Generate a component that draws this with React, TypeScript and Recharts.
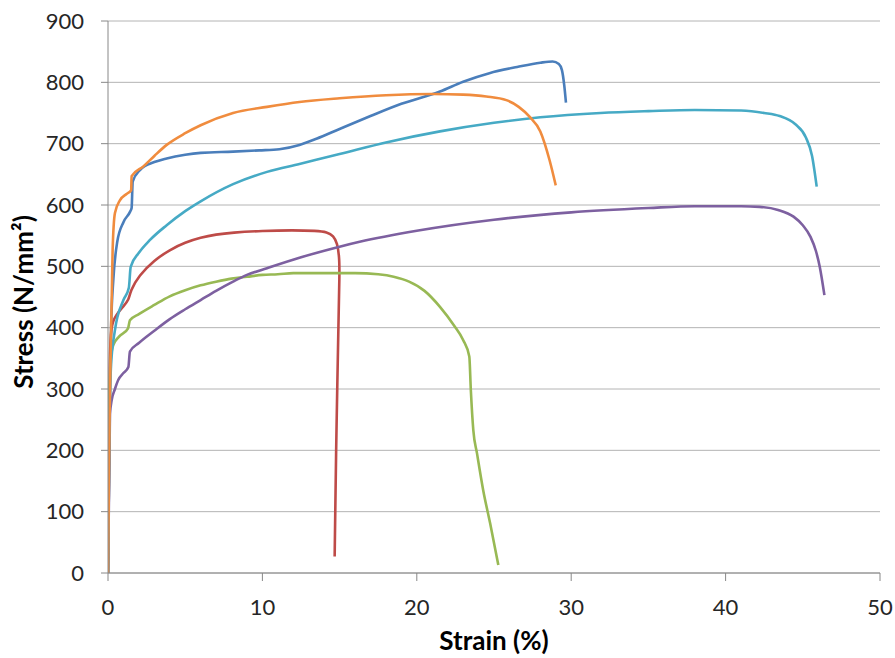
import { LineChart, Line, XAxis, YAxis, CartesianGrid } from 'recharts';

// strain (%) / stress (N/mm²) pairs
const blueCurve = [
  { x: 0, y: 0 }, { x: 0.1, y: 250 }, { x: 0.2, y: 400 }, { x: 0.35, y: 480 }, { x: 0.6, y: 540 },
  { x: 1.0, y: 572 }, { x: 1.45, y: 590 }, { x: 1.53, y: 595 }, { x: 1.6, y: 638 }, { x: 2.07, y: 657 },
  { x: 3, y: 670 }, { x: 3.8, y: 676 }, { x: 5, y: 682 }, { x: 6, y: 685 }, { x: 8.1, y: 687 },
  { x: 9.8, y: 689 }, { x: 11.1, y: 691 }, { x: 12.4, y: 698 }, { x: 13.5, y: 708 }, { x: 15, y: 724 },
  { x: 17, y: 745 }, { x: 19, y: 765 }, { x: 21.5, y: 785 }, { x: 23, y: 801 }, { x: 24.7, y: 815 },
  { x: 26.5, y: 825 }, { x: 28, y: 832 }, { x: 28.8, y: 834 }, { x: 29.2, y: 830 }, { x: 29.4, y: 820 },
  { x: 29.55, y: 795 }, { x: 29.66, y: 767 },
];

const redCurve = [
  { x: 0, y: 0 }, { x: 0.05, y: 200 }, { x: 0.1, y: 350 }, { x: 0.2, y: 405 }, { x: 0.5, y: 420 },
  { x: 1.0, y: 435 }, { x: 1.35, y: 445 }, { x: 1.45, y: 460 }, { x: 2, y: 485 }, { x: 3, y: 510 },
  { x: 4, y: 527 }, { x: 5, y: 539 }, { x: 6, y: 547 }, { x: 7, y: 552 }, { x: 8, y: 555 },
  { x: 10, y: 558 }, { x: 12, y: 559 }, { x: 13.5, y: 558 }, { x: 14.2, y: 556 }, { x: 14.6, y: 550 },
  { x: 14.85, y: 538 }, { x: 14.98, y: 515 }, { x: 15.0, y: 490 }, { x: 14.92, y: 400 }, { x: 14.85, y: 304 },
  { x: 14.77, y: 195 }, { x: 14.72, y: 100 }, { x: 14.68, y: 27 },
];

const greenCurve = [
  { x: 0, y: 0 }, { x: 0.05, y: 150 }, { x: 0.1, y: 300 }, { x: 0.2, y: 355 }, { x: 0.35, y: 372 },
  { x: 0.7, y: 385 }, { x: 1.3, y: 399 }, { x: 1.42, y: 412 }, { x: 2, y: 422 }, { x: 3, y: 437 },
  { x: 4, y: 451 }, { x: 5, y: 461 }, { x: 6, y: 469 }, { x: 7, y: 475 }, { x: 8, y: 480 },
  { x: 9, y: 483 }, { x: 10, y: 486 }, { x: 11, y: 487 }, { x: 12, y: 489 }, { x: 14, y: 489 },
  { x: 16, y: 489 }, { x: 17.5, y: 487 }, { x: 18.5, y: 483 }, { x: 19.5, y: 475 }, { x: 20.5, y: 460 },
  { x: 21.5, y: 434 }, { x: 22.4, y: 404 }, { x: 23.0, y: 380 }, { x: 23.4, y: 353 }, { x: 23.5, y: 298 },
  { x: 23.66, y: 233 }, { x: 23.9, y: 195 }, { x: 24.3, y: 135 }, { x: 24.75, y: 81 }, { x: 25.28, y: 13 },
];

const purpleCurve = [
  { x: 0, y: 0 }, { x: 0.05, y: 100 }, { x: 0.1, y: 200 }, { x: 0.13, y: 260 }, { x: 0.24, y: 282 },
  { x: 0.45, y: 300 }, { x: 0.67, y: 315 }, { x: 1.0, y: 326 }, { x: 1.32, y: 336 }, { x: 1.42, y: 361 },
  { x: 2, y: 375 }, { x: 3, y: 395 }, { x: 4, y: 414 }, { x: 5, y: 430 }, { x: 6, y: 445 },
  { x: 7, y: 460 }, { x: 8.1, y: 475 }, { x: 9, y: 486 }, { x: 10.3, y: 497 }, { x: 12.4, y: 514 },
  { x: 15, y: 532 }, { x: 16.3, y: 540 }, { x: 20, y: 558 }, { x: 25, y: 576 }, { x: 30, y: 588 },
  { x: 35, y: 595 }, { x: 38, y: 598 }, { x: 41, y: 598 }, { x: 42.2, y: 597 }, { x: 43.4, y: 592 },
  { x: 44.4, y: 581 }, { x: 45.0, y: 567 }, { x: 45.5, y: 548 }, { x: 45.85, y: 525 }, { x: 46.1, y: 499 },
  { x: 46.4, y: 453 },
];

const tealCurve = [
  { x: 0, y: 0 }, { x: 0.1, y: 250 }, { x: 0.2, y: 340 }, { x: 0.45, y: 396 }, { x: 1.0, y: 445 },
  { x: 1.35, y: 465 }, { x: 1.47, y: 499 }, { x: 2, y: 522 }, { x: 2.72, y: 543 }, { x: 3.8, y: 567 },
  { x: 5, y: 590 }, { x: 6, y: 606 }, { x: 8.1, y: 634 }, { x: 10.3, y: 654 }, { x: 12.4, y: 667 },
  { x: 15, y: 683 }, { x: 18, y: 702 }, { x: 21.5, y: 720 }, { x: 25, y: 734 }, { x: 28, y: 743 },
  { x: 31.9, y: 750 }, { x: 35, y: 753 }, { x: 38, y: 755 }, { x: 41, y: 754 }, { x: 42.5, y: 750 },
  { x: 43.5, y: 745 }, { x: 44.5, y: 732 }, { x: 45.2, y: 710 }, { x: 45.6, y: 680 }, { x: 45.9, y: 630 },
];

const orangeCurve = [
  { x: 0, y: 0 }, { x: 0.1, y: 250 }, { x: 0.2, y: 400 }, { x: 0.24, y: 445 }, { x: 0.3, y: 527 },
  { x: 0.45, y: 587 }, { x: 0.78, y: 608 }, { x: 1.2, y: 618 }, { x: 1.5, y: 624 }, { x: 1.53, y: 647 },
  { x: 2.29, y: 663 }, { x: 3, y: 680 }, { x: 3.8, y: 698 }, { x: 5, y: 717 }, { x: 6, y: 730 },
  { x: 8.1, y: 750 }, { x: 10.3, y: 760 }, { x: 12.4, y: 768 }, { x: 15, y: 774 }, { x: 18, y: 779 },
  { x: 21, y: 781 }, { x: 23, y: 780 }, { x: 24.5, y: 777 }, { x: 25.8, y: 771 }, { x: 26.6, y: 760 },
  { x: 27.3, y: 744 }, { x: 28, y: 720 }, { x: 28.6, y: 673 }, { x: 29, y: 632 },
];

const strainTicks = [0, 10, 20, 30, 40, 50];
const stressTicks = [0, 100, 200, 300, 400, 500, 600, 700, 800, 900];

// red doubles back on x at the fracture, so it gets a basis curve instead of monotone
const series = [
  { name: 'blue', data: blueCurve, color: '#4A7EBB', curve: 'monotone' },
  { name: 'red', data: redCurve, color: '#BE4B48', curve: 'basis' },
  { name: 'green', data: greenCurve, color: '#98B954', curve: 'monotone' },
  { name: 'purple', data: purpleCurve, color: '#7D60A0', curve: 'monotone' },
  { name: 'teal', data: tealCurve, color: '#46AAC5', curve: 'monotone' },
  { name: 'orange', data: orangeCurve, color: '#F08C3E', curve: 'monotone' },
];

const tickStyle = { fontFamily: 'Lato', fontSize: 22, fill: '#262626' };
const titleStyle = { fontFamily: 'Lato', fontSize: 26, fontWeight: 700, fill: '#000' };

const StressTitle = () => (
  <text
    x={23}
    y={302}
    transform="rotate(-90 23 302)"
    textAnchor="middle"
    dominantBaseline="central"
    style={titleStyle}
  >
    Stress (N/mm²)
  </text>
);

export default function App() {
  return (
    <div style={{ position: 'absolute', left: 0, top: 0, background: '#fff' }}>
      <LineChart width={895} height={658} margin={{ top: 21, right: 15, bottom: 0, left: 0 }}>
        <CartesianGrid vertical={false} stroke="#B4B4B4" />
        <XAxis
          type="number"
          dataKey="x"
          domain={[0, 50]}
          ticks={strainTicks}
          allowDataOverflow
          height={85}
          stroke="#888"
          tickSize={8}
          tickMargin={18}
          tick={tickStyle}
          label={{ value: 'Strain (%)', position: 'insideBottom', offset: 8, style: titleStyle }}
        />
        <YAxis
          type="number"
          dataKey="y"
          domain={[0, 900]}
          ticks={stressTicks}
          width={108}
          stroke="#888"
          tickSize={7}
          tickMargin={17}
          tick={tickStyle}
          label={{ content: StressTitle }}
        />
        {series.map((s) => (
          <Line
            key={s.name}
            data={s.data}
            dataKey="y"
            type={s.curve as 'monotone' | 'basis'}
            stroke={s.color}
            strokeWidth={2.6}
            dot={false}
            activeDot={false}
            isAnimationActive={false}
          />
        ))}
      </LineChart>
    </div>
  );
}
